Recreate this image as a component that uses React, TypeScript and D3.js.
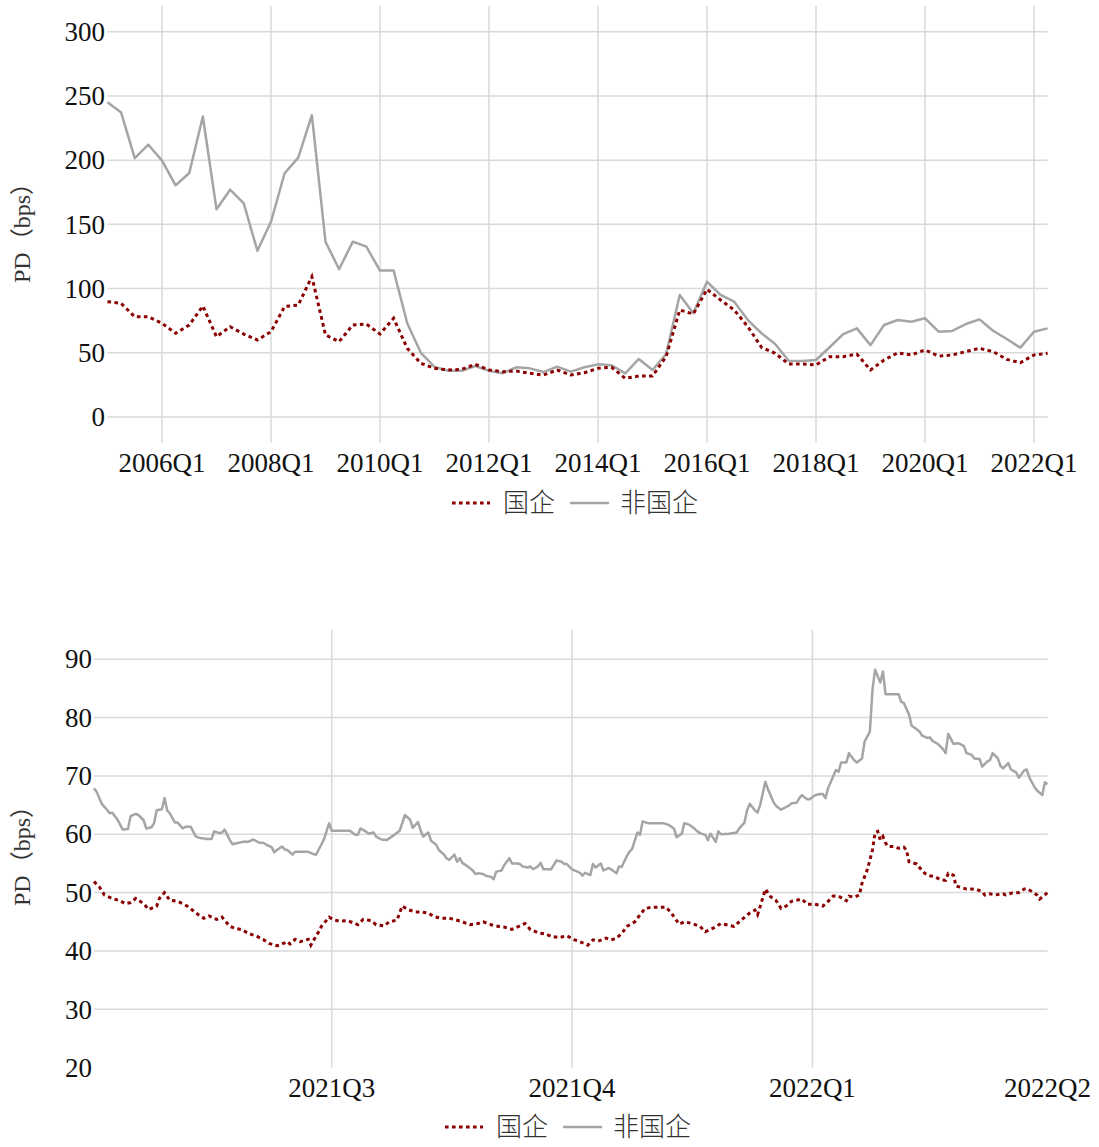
import React from "react";
import * as d3 from "d3";

// ---------- Top chart: quarterly PD (bps) ----------
const quarters: string[] = d3.range(70).map((i) => `${2005 + Math.floor(i / 4)}Q${(i % 4) + 1}`);

const soeQuarterly = [
  89.8, 88.5, 78, 78, 73, 65.2, 71.6, 86.4, 62.5, 70.3,
  64.6, 60, 66.4, 86, 87.2, 109.3, 63.9, 58.7, 71.6, 72.4,
  64.6, 76.9, 53.5, 41.8, 37.9, 36.6, 37.1, 41, 36.6, 35.3,
  35.8, 34, 32.7, 36.6, 32.7, 34.5, 37.9, 38.7, 30.1, 31.9,
  31.9, 47, 83.3, 80.2, 99.4, 91.1, 83.3, 70.3, 54.3, 49.6,
  41.3, 41.3, 40.5, 47, 47, 49, 36.6, 44.4, 50, 48.3,
  52.2, 47.5, 48.3, 50.9, 53.5, 50.9, 44.9, 42.3, 48.3, 49.6,
];

const nonSoeQuarterly = [
  245, 237, 201.5, 212, 199.6, 180.4, 190, 234, 161.7, 177,
  166.4, 129.5, 152, 189.8, 202, 235, 136.5, 115, 136.5, 132.6,
  114, 114, 73, 50, 39, 36, 36, 39.7, 36, 34,
  38.7, 37.9, 35, 39.2, 35.3, 38.7, 41, 40.3, 34, 45.2,
  36.6, 49, 95, 80.7, 105.4, 95, 89.8, 75.5, 65.2, 56.9,
  43.8, 43.6, 44.4, 54.3, 64.6, 69, 56, 71.6, 75.5, 74.2,
  76.9, 66.4, 67, 72.4, 76, 67.2, 60.7, 54, 66.4, 69,
];

const topXTicks = ["2006Q1", "2008Q1", "2010Q1", "2012Q1", "2014Q1", "2016Q1", "2018Q1", "2020Q1", "2022Q1"];
const topYTicks = [0, 50, 100, 150, 200, 250, 300];

// ---------- Bottom chart: daily PD (bps), days since start date ----------
const dailyStart = "2021-04-01";

const nonSoeDays = [
  0, 1, 3, 4, 6, 7, 9, 11, 13, 14, 16, 17, 19, 20, 22, 23, 24, 26, 27, 28,
  29, 31, 32, 34, 35, 37, 39, 41, 42, 43, 45, 46, 48, 49, 50, 52, 53, 55, 57, 59,
  61, 63, 65, 66, 68, 69, 70, 72, 73, 74, 76, 77, 79, 81, 82, 84, 85, 87, 88, 90,
  91, 93, 96, 98, 100, 101, 102, 104, 105, 107, 108, 110, 112, 113, 115, 117, 118, 119, 121, 122,
  124, 125, 126, 128, 129, 131, 132, 134, 135, 136, 138, 139, 140, 141, 143, 145, 146, 147, 149, 150,
  152, 153, 154, 156, 157, 159, 160, 162, 163, 164, 166, 167, 168, 170, 171, 172, 175, 177, 179, 180,
  181, 183, 185, 186, 187, 188, 190, 191, 192, 194, 195, 197, 198, 200, 201, 202, 204, 205, 206, 208,
  209, 210, 212, 215, 218, 220, 222, 223, 225, 226, 228, 229, 231, 232, 234, 235, 236, 238, 239, 240,
  243, 246, 247, 249, 250, 251, 253, 254, 255, 257, 258, 260, 261, 263, 265, 266, 267, 269, 270, 271,
  273, 274, 276, 278, 279, 280, 281, 282, 284, 285, 286, 288, 289, 291, 292, 294, 295, 297, 298, 299,
  301, 302, 303, 306, 308, 309, 310, 312, 313, 314, 316, 317, 319, 320, 321, 323, 325, 326, 327, 329,
  331, 333, 334, 336, 337, 339, 340, 342, 343, 344, 346, 347, 348, 350, 351, 353, 354, 356, 357, 358,
  360, 361, 363, 364, 365,
];

const nonSoeDaily = [
  67.9, 67.3, 65.2, 64.7, 63.6, 63.7, 62.5, 60.8, 60.9, 63.1, 63.5, 63.3, 62.4, 61.0, 61.2, 61.9, 64.1, 64.3, 66.2, 64.1,
  63.6, 62.0, 62.0, 61.0, 61.3, 61.3, 59.6, 59.3, 59.3, 59.2, 59.2, 60.5, 60.2, 60.3, 60.8, 59.0, 58.3, 58.5, 58.7, 58.7,
  59.1, 58.6, 58.5, 58.2, 57.8, 56.9, 57.3, 57.9, 57.4, 57.3, 56.5, 57.0, 57.0, 57.0, 57.0, 56.6, 56.5, 58.2, 59.1, 61.9,
  60.6, 60.6, 60.6, 60.6, 59.9, 59.9, 61.0, 60.5, 60.1, 60.3, 59.6, 59.1, 59.0, 59.3, 59.9, 60.6, 61.9, 63.3, 62.5, 61.1,
  62.1, 60.7, 59.6, 60.3, 58.9, 58.2, 57.3, 56.5, 55.9, 55.6, 56.5, 55.3, 55.9, 55.1, 54.5, 53.8, 53.2, 53.3, 53.2, 52.9,
  52.7, 52.3, 53.6, 53.8, 54.7, 55.9, 55.0, 55.0, 54.9, 54.5, 54.3, 54.5, 54.0, 54.5, 55.1, 54.0, 54.0, 55.5, 55.3, 54.9,
  54.9, 54.0, 53.6, 53.4, 52.9, 53.4, 53.0, 54.9, 54.3, 55.0, 53.8, 54.2, 54.0, 53.3, 54.5, 54.4, 56.3, 57.0, 57.5, 60.3,
  59.9, 62.2, 61.9, 61.9, 61.9, 61.6, 61.0, 59.5, 60.1, 61.9, 61.6, 61.3, 60.5, 60.2, 59.9, 59.0, 60.1, 58.7, 60.5, 60.0,
  60.1, 60.3, 61.0, 62.0, 64.1, 65.2, 64.1, 63.7, 65.0, 69.0, 67.7, 65.6, 64.9, 64.2, 64.7, 64.9, 65.3, 65.4, 66.2, 66.7,
  66.0, 66.0, 66.7, 66.9, 66.9, 66.2, 67.9, 68.9, 71.0, 70.7, 72.3, 72.3, 73.9, 72.7, 72.3, 73.0, 75.9, 77.6, 84.7, 88.2,
  86.0, 87.9, 84.0, 84.0, 84.0, 82.7, 82.5, 80.5, 78.6, 78.3, 77.6, 76.9, 76.5, 76.6, 76.0, 75.5, 74.6, 73.9, 77.2, 75.5,
  75.6, 75.1, 73.9, 73.6, 73.0, 72.9, 71.6, 72.5, 72.7, 73.9, 73.0, 71.7, 71.3, 72.2, 71.1, 70.6, 69.7, 70.9, 71.1, 69.8,
  68.1, 67.5, 66.7, 68.9, 68.6,
];

const soeDays = [
  0, 2, 4, 7, 10, 12, 14, 16, 19, 21, 24, 25, 27, 29, 32, 34, 36, 38, 40, 42,
  44, 47, 49, 52, 54, 57, 59, 62, 65, 67, 70, 71, 74, 75, 77, 79, 82, 83, 86, 87,
  90, 92, 94, 97, 100, 101, 103, 106, 108, 111, 113, 116, 118, 120, 123, 125, 128, 130, 133, 136,
  138, 141, 144, 147, 149, 152, 155, 157, 160, 163, 165, 167, 170, 173, 175, 178, 181, 184, 186, 189,
  191, 193, 196, 198, 200, 202, 204, 207, 209, 211, 214, 216, 219, 221, 224, 226, 229, 232, 234, 237,
  240, 242, 245, 248, 251, 253, 254, 255, 257, 259, 261, 263, 265, 267, 271, 273, 276, 279, 281, 283,
  285, 288, 289, 291, 293, 294, 296, 298, 299, 300, 301, 302, 303, 304, 306, 308, 310, 311, 312, 315,
  316, 318, 320, 322, 324, 326, 327, 329, 330, 332, 334, 336, 338, 340, 341, 343, 345, 348, 349, 351,
  354, 356, 357, 359, 361, 362, 364, 365,
];

const soeDaily = [
  51.9, 51.0, 49.6, 49.0, 48.6, 48.1, 48.3, 49.0, 48.1, 47.1, 47.7, 49.0, 50.0, 48.7, 48.5, 48.1, 47.6, 46.9, 46.2, 45.6,
  46.0, 45.4, 45.8, 44.2, 43.9, 43.6, 43.0, 42.6, 41.9, 41.3, 40.9, 41.0, 41.6, 41.2, 42.0, 41.6, 42.0, 41.0, 43.3, 44.2,
  45.8, 45.3, 45.1, 45.2, 44.7, 44.5, 45.4, 45.2, 44.5, 44.3, 45.0, 45.3, 47.7, 47.1, 46.7, 46.7, 46.5, 45.9, 45.6, 45.6,
  45.4, 45.0, 44.5, 44.7, 45.0, 44.5, 44.2, 44.1, 43.7, 44.3, 44.7, 43.7, 43.1, 42.9, 42.5, 42.3, 42.6, 41.9, 41.6, 41.0,
  41.9, 41.7, 42.2, 41.9, 42.2, 43.0, 44.2, 45.0, 46.2, 47.3, 47.5, 47.5, 47.5, 46.5, 44.6, 45.0, 44.7, 44.2, 43.3, 43.9,
  44.7, 44.5, 44.2, 45.4, 46.5, 47.0, 46.2, 47.6, 50.6, 49.3, 48.7, 47.3, 47.7, 48.5, 48.9, 48.0, 48.0, 47.7, 48.5, 49.4,
  49.4, 48.6, 49.4, 49.2, 49.6, 51.6, 53.9, 57.3, 60.3, 60.5, 59.0, 59.6, 58.5, 57.9, 57.9, 57.6, 57.8, 57.3, 55.3, 54.9,
  54.3, 53.3, 52.9, 52.7, 52.2, 52.1, 53.3, 53.0, 51.1, 50.9, 50.6, 50.6, 50.5, 50.2, 49.6, 49.8, 49.6, 49.8, 49.6, 49.9,
  50.0, 50.6, 50.7, 50.2, 49.6, 48.9, 49.6, 50.0,
];

const bottomTickDates = ["2021-07-01", "2021-10-01", "2022-01-01", "2022-04-01"];
const bottomTickLabels = ["2021Q3", "2021Q4", "2022Q1", "2022Q2"];
const bottomYTicks = [20, 30, 40, 50, 60, 70, 80, 90];

const seriesNames = ["国企", "非国企"];

// ---------- styles ----------
const RED = "#8b0000";
const GRAY = "#a5a5a5";
const GRID = "#d9d9d9";
const LATIN = "'Liberation Serif', 'Times New Roman', serif";
const CJK = "'Noto Sans CJK SC', 'Noto Sans CJK JP', sans-serif";
const TITLE_FONT = "'Liberation Serif', 'Noto Sans CJK SC', serif";
const DASH = "3.6 3.4";

const parseDate = d3.timeParse("%Y-%m-%d");

function Legend({ x0, y }: { x0: number; y: number }) {
  return (
    <g>
      <line x1={x0} x2={x0 + 38} y1={y} y2={y} stroke={RED} strokeWidth={3} strokeDasharray={DASH} />
      <text x={x0 + 51} y={y + 9} fontFamily={CJK} fontSize={26} fontWeight={300} fill="#333">
        {seriesNames[0]}
      </text>
      <line x1={x0 + 118} x2={x0 + 157} y1={y} y2={y} stroke={GRAY} strokeWidth={2.5} />
      <text x={x0 + 168} y={y + 9} fontFamily={CJK} fontSize={26} fontWeight={300} fill="#333">
        {seriesNames[1]}
      </text>
    </g>
  );
}

function YTitle({ x, y }: { x: number; y: number }) {
  return (
    <text
      transform={`translate(${x},${y}) rotate(-90)`}
      textAnchor="middle"
      dominantBaseline="central"
      fontFamily={TITLE_FONT}
      fontSize={24}
      fill="#333"
    >
      PD（bps）
    </text>
  );
}

export default function App() {
  // Top chart scales
  const xTop = d3.scalePoint<string>().domain(quarters).range([107.5, 1047.6]).padding(0);
  const yTop = d3.scaleLinear().domain([-20, 320]).range([442.7, 6]);
  const lineTop = (vals: number[]) =>
    d3
      .line<number>()
      .x((_, i) => xTop(quarters[i]) as number)
      .y((v) => yTop(v))(vals) as string;

  // Bottom chart scales
  const start = parseDate(dailyStart) as Date;
  const xBot = d3
    .scaleTime()
    .domain([start, d3.timeDay.offset(start, 365)])
    .range([94, 1047.5]);
  const yBot = d3.scaleLinear().domain([20, 95]).range([1067.7, 630]);
  const lineBot = (days: number[], vals: number[]) =>
    d3
      .line<number>()
      .x((_, i) => xBot(d3.timeDay.offset(start, days[i])))
      .y((v) => yBot(v))(vals) as string;

  const [xt0, xt1] = xTop.range();
  const [xb0, xb1] = xBot.range();

  return (
    <svg
      width={1099}
      height={1147}
      style={{ position: "absolute", left: 0, top: 0, background: "#fff" }}
    >
      <rect width={1099} height={1147} fill="#fff" />

      {/* ---------- Top chart ---------- */}
      <g>
        {topYTicks.map((t) => (
          <line key={"hg" + t} x1={xt0} x2={xt1} y1={yTop(t)} y2={yTop(t)} stroke={GRID} strokeWidth={1.5} />
        ))}
        {topXTicks.map((t) => (
          <line
            key={"vg" + t}
            x1={xTop(t)}
            x2={xTop(t)}
            y1={yTop.range()[1]}
            y2={yTop.range()[0]}
            stroke={GRID}
            strokeWidth={1.5}
          />
        ))}
        {topYTicks.map((t) => (
          <text
            key={"yl" + t}
            x={xt0 - 2.5}
            y={yTop(t)}
            dy="0.34em"
            textAnchor="end"
            fontFamily={LATIN}
            fontSize={27}
            fill="#111"
          >
            {t}
          </text>
        ))}
        {topXTicks.map((t) => (
          <text
            key={"xl" + t}
            x={xTop(t)}
            y={472}
            textAnchor="middle"
            fontFamily={LATIN}
            fontSize={27}
            fill="#111"
          >
            {t}
          </text>
        ))}
        <path d={lineTop(nonSoeQuarterly)} fill="none" stroke={GRAY} strokeWidth={2.5} strokeLinejoin="round" />
        <path d={lineTop(soeQuarterly)} fill="none" stroke={RED} strokeWidth={3} strokeDasharray={DASH} />
        <YTitle x={22} y={227} />
        <Legend x0={452} y={503} />
      </g>

      {/* ---------- Bottom chart ---------- */}
      <g>
        {bottomYTicks
          .filter((t) => t > 20)
          .map((t) => (
            <line key={"bhg" + t} x1={xb0} x2={xb1} y1={yBot(t)} y2={yBot(t)} stroke={GRID} strokeWidth={1.5} />
          ))}
        {bottomTickDates.slice(0, 3).map((d) => (
          <line
            key={"bvg" + d}
            x1={xBot(parseDate(d) as Date)}
            x2={xBot(parseDate(d) as Date)}
            y1={yBot.range()[1]}
            y2={yBot.range()[0]}
            stroke={GRID}
            strokeWidth={1.5}
          />
        ))}
        {bottomYTicks.map((t) => (
          <text
            key={"byl" + t}
            x={xb0 - 2}
            y={yBot(t)}
            dy="0.34em"
            textAnchor="end"
            fontFamily={LATIN}
            fontSize={27}
            fill="#111"
          >
            {t}
          </text>
        ))}
        {bottomTickDates.map((d, i) => (
          <text
            key={"bxl" + d}
            x={xBot(parseDate(d) as Date)}
            y={1097}
            textAnchor="middle"
            fontFamily={LATIN}
            fontSize={27}
            fill="#111"
          >
            {bottomTickLabels[i]}
          </text>
        ))}
        <path
          d={lineBot(nonSoeDays, nonSoeDaily)}
          fill="none"
          stroke={GRAY}
          strokeWidth={2.5}
          strokeLinejoin="round"
        />
        <path d={lineBot(soeDays, soeDaily)} fill="none" stroke={RED} strokeWidth={3} strokeDasharray={DASH} />
        <YTitle x={22} y={850} />
        <Legend x0={445} y={1127} />
      </g>
    </svg>
  );
}
